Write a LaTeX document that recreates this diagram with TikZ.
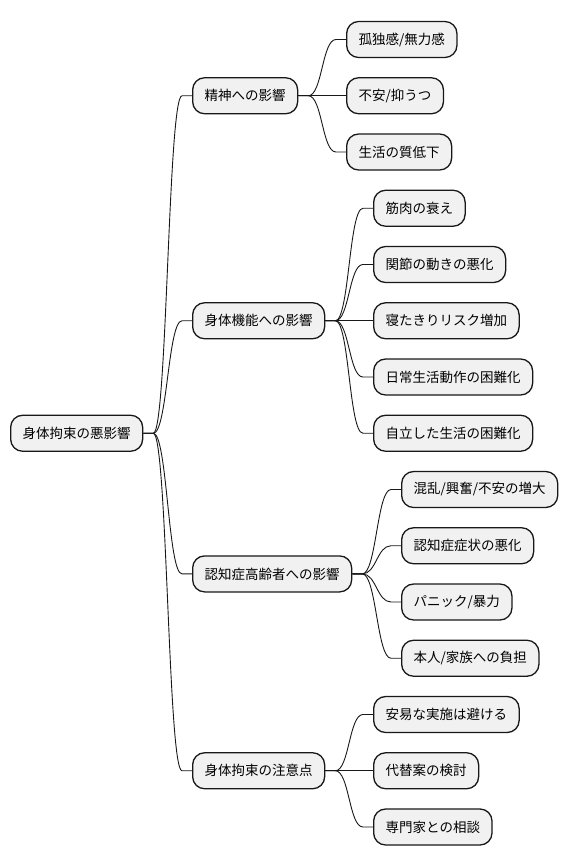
\documentclass[tikz,border=0pt]{standalone}
\usepackage{fontspec}
\setmainfont{Noto Sans CJK JP}
\usetikzlibrary{calc}
\definecolor{boxfill}{HTML}{F1F1F1}
\definecolor{boxline}{HTML}{181818}
\tikzset{
  mm/.style={draw=boxline, fill=boxfill, line width=1.3pt, rounded corners=12pt,
    minimum height=36pt, inner xsep=12pt, inner ysep=0pt, anchor=west,
    font=\fontsize{13.5pt}{16pt}\selectfont, text=black},
  conn/.style={draw=boxline, line width=0.9pt}
}
\newcommand\mmconn[2]{\draw[conn] (#1.east) -- ++(10pt,0) .. controls +(14pt,0) and +(-14pt,0) .. ($(#2.west)+(-10pt,0)$) -- (#2.west);}
\begin{document}
\begin{tikzpicture}[x=1pt,y=1pt]
\useasboundingbox (0,0) rectangle (568,-865);
% root
\node[mm] (root) at (10,-433.25) {身体拘束の悪影響};
% level 1
\node[mm] (a) at (192,-95.75) {精神への影響};
\node[mm] (b) at (192,-320.75) {身体機能への影響};
\node[mm] (c) at (192,-573.9) {認知症高齢者への影響};
\node[mm] (d) at (192,-770.75) {身体拘束の注意点};
% leaves
\node[mm] (a1) at (346,-39.5) {孤独感/無力感};
\node[mm] (a2) at (346,-95.75) {不安/抑うつ};
\node[mm] (a3) at (346,-152) {生活の質低下};
\node[mm] (b1) at (373,-208.25) {筋肉の衰え};
\node[mm] (b2) at (373,-264.5) {関節の動きの悪化};
\node[mm] (b3) at (373,-320.75) {寝たきりリスク増加};
\node[mm] (b4) at (373,-377) {日常生活動作の困難化};
\node[mm] (b5) at (373,-433.25) {自立した生活の困難化};
\node[mm] (c1) at (401,-489.5) {混乱/興奮/不安の増大};
\node[mm] (c2) at (401,-545.75) {認知症症状の悪化};
\node[mm] (c3) at (401,-602) {パニック/暴力};
\node[mm] (c4) at (401,-658.25) {本人/家族への負担};
\node[mm] (d1) at (373,-714.5) {安易な実施は避ける};
\node[mm] (d2) at (373,-770.75) {代替案の検討};
\node[mm] (d3) at (373,-827) {専門家との相談};
% connectors
\mmconn{root}{a}
\mmconn{root}{b}
\mmconn{root}{c}
\mmconn{root}{d}
\mmconn{a}{a1}
\mmconn{a}{a2}
\mmconn{a}{a3}
\mmconn{b}{b1}
\mmconn{b}{b2}
\mmconn{b}{b3}
\mmconn{b}{b4}
\mmconn{b}{b5}
\mmconn{c}{c1}
\mmconn{c}{c2}
\mmconn{c}{c3}
\mmconn{c}{c4}
\mmconn{d}{d1}
\mmconn{d}{d2}
\mmconn{d}{d3}
\end{tikzpicture}
\end{document}
